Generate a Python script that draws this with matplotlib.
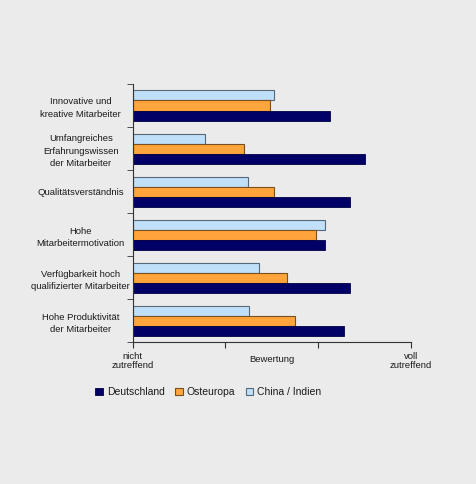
import numpy as np
import matplotlib
matplotlib.use('Agg')
import matplotlib.pyplot as plt
from matplotlib.ticker import FixedLocator

plt.rcParams['font.family'] = ['Liberation Sans', 'DejaVu Sans']

CATEGORIES = [
    'Innovative und\nkreative Mitarbeiter',
    'Umfangreiches\nErfahrungswissen\nder Mitarbeiter',
    'Qualitätsverständnis',
    'Hohe\nMitarbeitermotivation',
    'Verfügbarkeit hoch\nqualifizierter Mitarbeiter',
    'Hohe Produktivität\nder Mitarbeiter',
]
DEUTSCHLAND = [2.13, 2.51, 2.35, 2.08, 2.34, 2.28]
OSTEUROPA   = [1.48, 1.20, 1.53, 1.98, 1.67, 1.75]
CHINA       = [1.52, 0.78, 1.24, 2.08, 1.36, 1.25]
X_TICKS     = [0, 1, 2, 3]
X_LABELS    = ['nicht\nzutreffend', '', '', 'voll\nzutreffend']

BG = '#EBEBEB'
TXT = '#1a1a1a'

fig = plt.figure(figsize=(4.77, 4.84), dpi=100, facecolor=BG)
ax = fig.add_axes([0.2782, 0.2928, 0.5828, 0.5337], facecolor=BG)

n = len(CATEGORIES)
centers = np.arange(n) + 0.5
h = 0.233
ax.barh(centers - h, CHINA, h, color='#BFE0F8', edgecolor='#55697a', linewidth=0.8, label='China / Indien')
ax.barh(centers, OSTEUROPA, h, color='#FFA53C', edgecolor='#7a5020', linewidth=0.8, label='Osteuropa')
ax.barh(centers + h, DEUTSCHLAND, h, color='#000066', edgecolor='#000044', linewidth=0.6, label='Deutschland')

ax.set_xlim(0, 3)
ax.set_ylim(n, 0)

for s in ['top', 'right']:
    ax.spines[s].set_visible(False)
ax.spines['left'].set_color('#333333')
ax.spines['bottom'].set_color('#333333')

ax.set_yticks(centers)
ax.set_yticklabels(CATEGORIES, ha='center', fontsize=6.8, color=TXT, linespacing=1.5)
ax.tick_params(axis='y', which='major', length=0, pad=37.4)
ax.yaxis.set_minor_locator(FixedLocator(np.arange(n + 1)))
ax.tick_params(axis='y', which='minor', length=4, direction='out', color='#333333')

ax.set_xticks(X_TICKS)
ax.set_xticklabels(X_LABELS, fontsize=6.8, color=TXT, linespacing=1.0)
ax.tick_params(axis='x', length=4, direction='out', color='#333333', pad=3)
ax.text(1.5, -0.066, 'Bewertung', transform=ax.get_xaxis_transform(), ha='center', va='center',
        fontsize=6.8, color=TXT)

handles, labels = ax.get_legend_handles_labels()
fig.legend(handles[::-1], labels[::-1], loc='center left', bbox_to_anchor=(0.2, 1 - 392 / 484),
           ncol=3, frameon=False, fontsize=7.5, handlelength=0.75, handleheight=0.75,
           handletextpad=0.35, columnspacing=1.0, borderpad=0, borderaxespad=0,
           labelcolor=TXT)

fig.savefig('out.png', dpi=100, facecolor=BG)
